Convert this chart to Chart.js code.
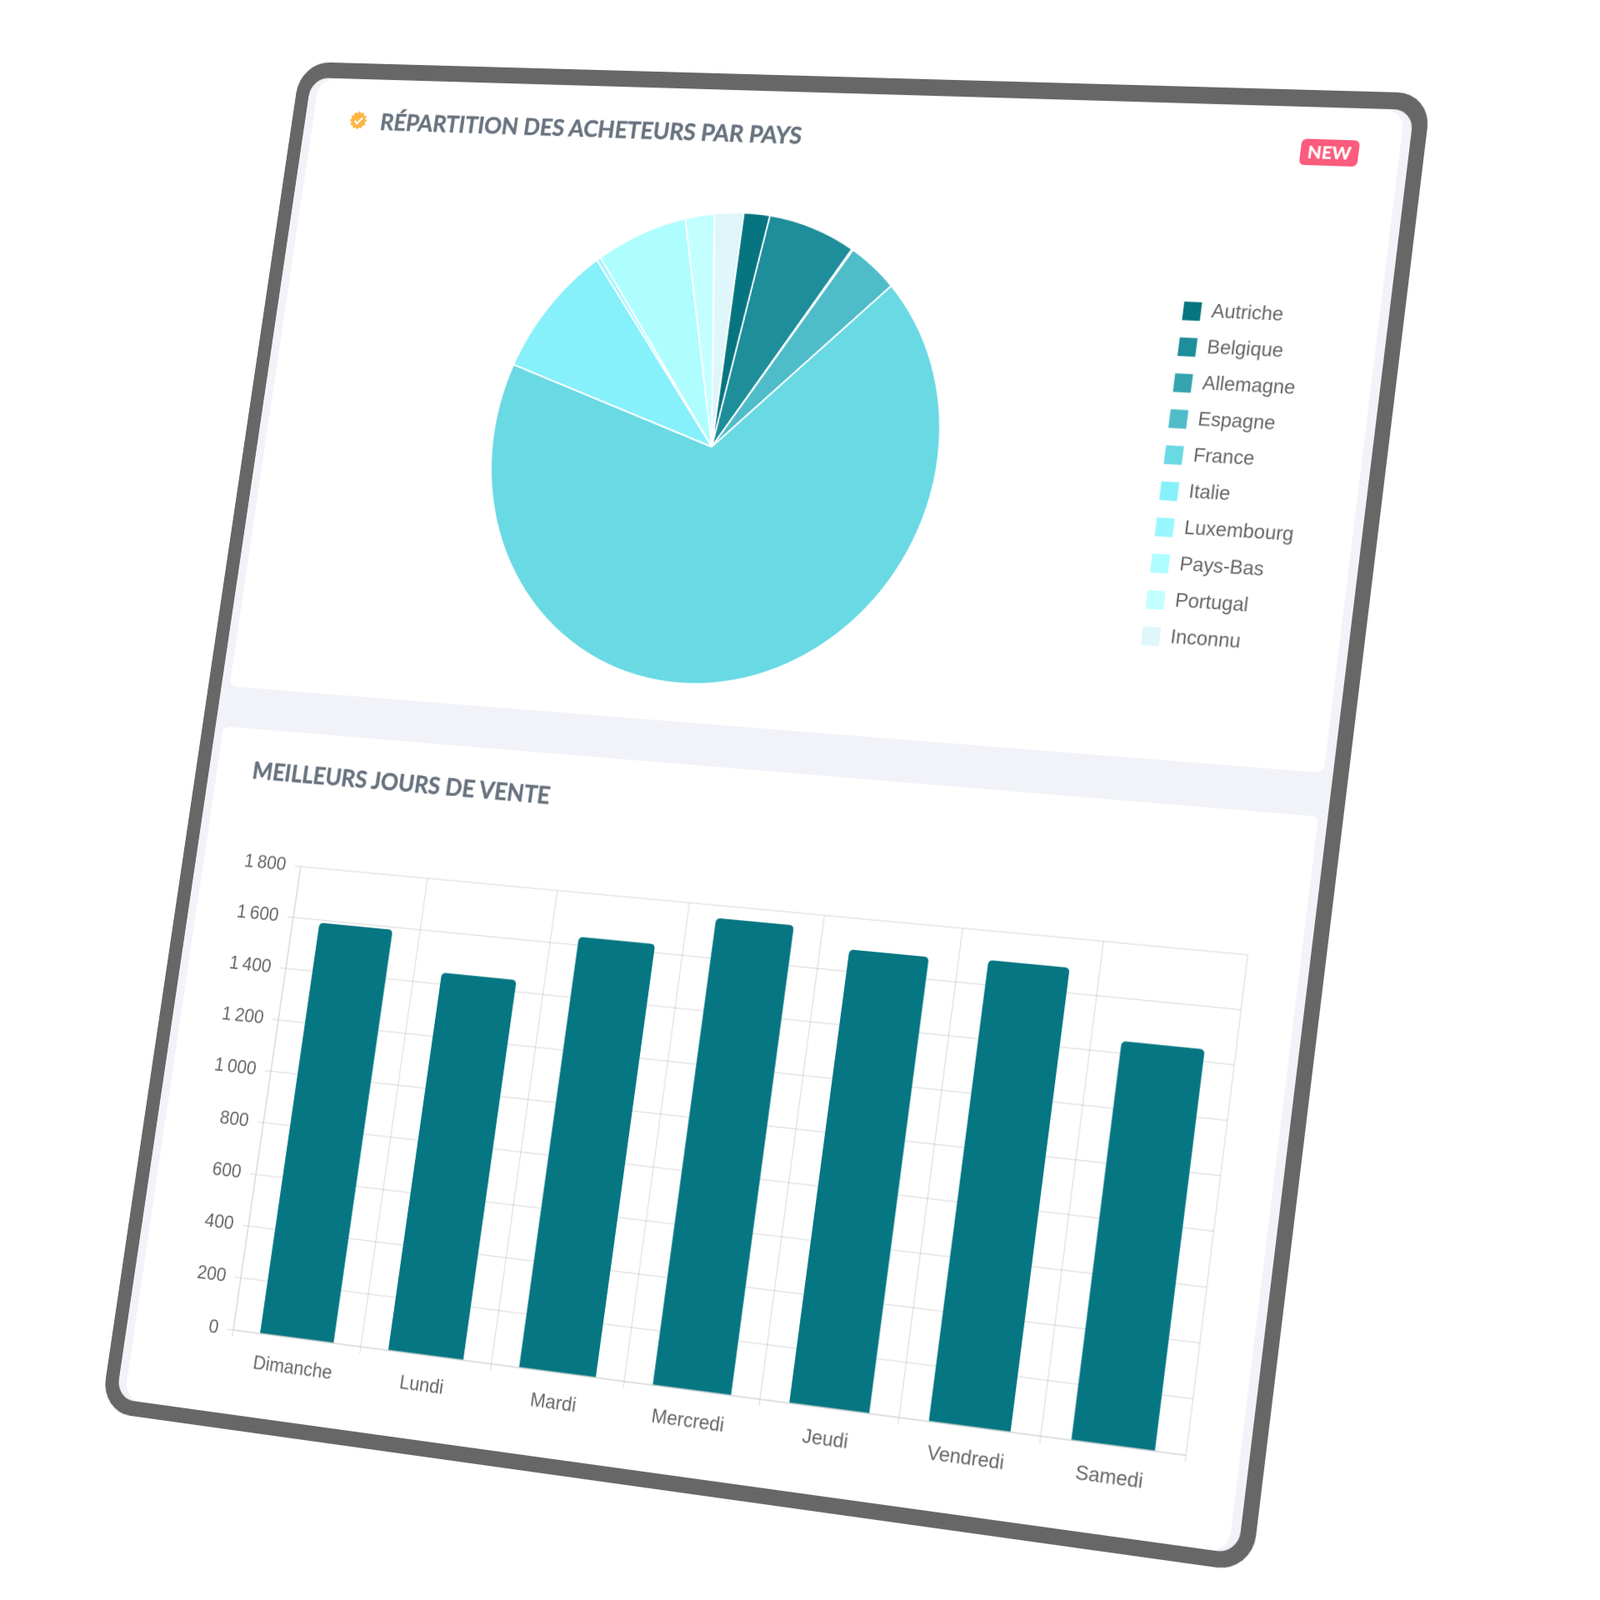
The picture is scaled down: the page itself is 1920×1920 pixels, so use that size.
<!DOCTYPE html>
<html lang="fr">
<head>
<meta charset="utf-8">
<title>Répartition des acheteurs</title>
<script src="https://cdn.jsdelivr.net/npm/chart.js@4"></script>
<style>
  html, body { margin: 0; background: #fff; width: 1920px; height: 1920px; overflow: hidden; }
  #tablette { position: absolute; left: 0; top: 0; background: #676767; border-radius: 40px; transform-origin: 0 0; filter: blur(0.4px); }
  #ecran { position: absolute; left: 18px; top: 20px; right: 18px; bottom: 18px; background: #f2f3f8; border-radius: 24px; overflow: hidden; }
  .carte { position: absolute; background: #fff; border-radius: 8px; }
  .titre { position: absolute; font: 700 29px Lato, sans-serif; color: #68737f; white-space: nowrap; -webkit-text-stroke: 0.4px #68737f; }
  #badge { position: absolute; background: #fb5b7c; color: #fff; font: 900 21.5px Lato, sans-serif; border-radius: 6px; text-align: center; }
  canvas { position: absolute; }
</style>
</head>
<body>
<div id="tablette">
  <div id="ecran"></div>
  <div class="carte" id="carte1"></div>
  <div class="carte" id="carte2"></div>
  <svg id="icone" style="position:absolute" viewBox="-12 -12 24 24"></svg>
  <div class="titre" id="titre1">RÉPARTITION DES ACHETEURS PAR PAYS</div>
  <div id="badge">NEW</div>
  <div class="titre" id="titre2">MEILLEURS JOURS DE VENTE</div>
  <canvas id="graphePays"></canvas>
  <canvas id="grapheJours"></canvas>
</div>
<script>
const pays = ["Autriche", "Belgique", "Allemagne", "Espagne", "France", "Italie", "Luxembourg", "Pays-Bas", "Portugal", "Inconnu"];
const partsPays = [1.9, 6.5, 0.1, 3.8, 67.7, 9.1, 0.3, 6.5, 2.1, 2.1];
const couleursPays = ["#06757f", "#1d8e9a", "#35a4ae", "#4fbcc9", "#69d9e4", "#86f0fb", "#99f6ff", "#aefdff", "#c3ffff", "#dff6fb"];

const jours = ["Dimanche", "Lundi", "Mardi", "Mercredi", "Jeudi", "Vendredi", "Samedi"];
const ventesJours = [1590, 1445, 1632, 1752, 1682, 1692, 1445];
const ticksVentes = ["0", "200", "400", "600", "800", "1\u2009000", "1\u2009200", "1\u2009400", "1\u2009600", "1\u2009800"];

// taille de la tablette a plat, puis ses 4 coins dans l'image
const W = 1447, H = 1686;
const coins = [[361, 74], [1718, 112], [1502, 1887], [121, 1694]];

// homographie rectangle -> quadrilatere
const [[x0, y0], [x1, y1], [x2, y2], [x3, y3]] = coins;
const dx1 = x1 - x2, dx2 = x3 - x2, sx = x0 - x1 + x2 - x3;
const dy1 = y1 - y2, dy2 = y3 - y2, sy = y0 - y1 + y2 - y3;
const den = dx1 * dy2 - dx2 * dy1;
const g = (sx * dy2 - dx2 * sy) / den, h = (dx1 * sy - sx * dy1) / den;
const a = x1 - x0 + g * x1, b = x3 - x0 + h * x3, d = y1 - y0 + g * y1, e = y3 - y0 + h * y3;

function versLocal(X, Y) {
  const m11 = a - g * X, m12 = b - h * X, m21 = d - g * Y, m22 = e - h * Y;
  const r1 = X - x0, r2 = Y - y0, det = m11 * m22 - m12 * m21;
  return [(r1 * m22 - r2 * m12) / det * W, (m11 * r2 - m21 * r1) / det * H];
}

const tablette = document.getElementById("tablette");
tablette.style.width = W + "px";
tablette.style.height = H + "px";
tablette.style.transform = "matrix3d(" + [a / W, d / W, 0, g / W, b / H, e / H, 0, h / H, 0, 0, 1, 0, x0, y0, 0, 1].join(",") + ")";

function placer(id, hg, bd) {
  const el = document.getElementById(id);
  const [l, t] = versLocal(hg[0], hg[1]);
  el.style.left = l + "px";
  el.style.top = t + "px";
  if (bd) {
    const [r, b2] = versLocal(bd[0], bd[1]);
    el.style.width = (r - l) + "px";
    el.style.height = (b2 - t) + "px";
  }
  return el;
}

// cartes blanches
const basDroite = versLocal(1589, 927), hautCarte2 = versLocal(276, 872);
document.getElementById("carte1").style.cssText =
  `left:29px;top:21px;width:${basDroite[0] - 29}px;height:${basDroite[1] - 21}px;border-radius:22px 22px 8px 8px`;
document.getElementById("carte2").style.cssText =
  `left:29px;top:${hautCarte2[1]}px;width:${basDroite[0] - 29}px;height:${H - 18 - hautCarte2[1]}px;border-radius:8px 8px 22px 22px`;

placer("titre1", [459, 129]);
placer("titre2", [306, 906]);
const badge = placer("badge", [1563, 166], [1628, 200]);
badge.style.lineHeight = badge.style.height;
const icone = placer("icone", [419, 133], [441, 156]);

// petite pastille orange
let pts = [];
for (let i = 0; i < 24; i++) {
  const r = i % 2 ? 9.5 : 12, t = i * Math.PI / 12;
  pts.push((r * Math.cos(t)).toFixed(2) + "," + (r * Math.sin(t)).toFixed(2));
}
icone.innerHTML = `<polygon points="${pts.join(" ")}" fill="#fdb441"/><path d="M-5 0.5 L-1.5 4 L5.5 -3.5" fill="none" stroke="#fff" stroke-width="2.4"/>`;

// camembert : centre et rayon mesures sur l'image
const centre = versLocal(854, 536);
const gauche = versLocal(588, 563), droite = versLocal(1128, 520);
const haut = versLocal(888, 256), bas = versLocal(833, 822);
const rayon = ((droite[0] - gauche[0]) + (bas[1] - haut[1])) / 4;
const pastille = versLocal(1395, 560);

const canvasPays = document.getElementById("graphePays");
const pieH = rayon * 2 + 4;
canvasPays.width = 1400;
canvasPays.height = pieH;
canvasPays.style.top = (centre[1] - pieH / 2) + "px";

const paddingLegende = 18.5;
const chartPays = new Chart(canvasPays, {
  type: "pie",
  data: {
    labels: pays,
    datasets: [{ data: partsPays, backgroundColor: couleursPays, borderColor: "#fff", borderWidth: 2 }]
  },
  options: {
    responsive: false,
    maintainAspectRatio: false,
    animation: false,
    devicePixelRatio: 2,
    plugins: {
      legend: {
        position: "right",
        labels: { boxWidth: 23.5, boxHeight: 24, padding: paddingLegende, color: "#666", font: { family: "'Liberation Sans'", size: 23.4 } }
      },
      tooltip: { enabled: false }
    }
  }
});

// cale le canvas pour que le camembert tombe sur son centre et la legende a sa place
const largeurLegende = chartPays.legend.width;
const droitePays = pastille[0] + largeurLegende - paddingLegende;
const gauchePays = 2 * centre[0] - (droitePays - largeurLegende);
chartPays.resize(droitePays - gauchePays, pieH);
canvasPays.style.left = gauchePays + "px";

// histogramme
const axeY = 80, axeX = 70, marge = 16;
const hg = versLocal(362, 1030), bd = versLocal(1423, 1747);
const canvasJours = document.getElementById("grapheJours");
canvasJours.width = bd[0] - hg[0] + axeY + marge;
canvasJours.height = bd[1] - hg[1] + axeX + marge;
canvasJours.style.left = (hg[0] - axeY) + "px";
canvasJours.style.top = (hg[1] - marge) + "px";

new Chart(canvasJours, {
  type: "bar",
  data: {
    labels: jours,
    datasets: [{
      data: ventesJours,
      backgroundColor: "#057682",
      borderRadius: { topLeft: 5, topRight: 5 },
      borderSkipped: false,
      barPercentage: 0.72,
      categoryPercentage: 0.8
    }]
  },
  options: {
    responsive: false,
    animation: false,
    devicePixelRatio: 2,
    layout: { padding: { top: marge, right: marge } },
    plugins: { legend: { display: false }, tooltip: { enabled: false } },
    scales: {
      x: {
        grid: { lineWidth: 1.3, color: ctx => ctx.index === jours.length ? "transparent" : "rgba(0,0,0,0.12)" },
        ticks: { color: "#666", padding: 14, maxRotation: 0, font: { family: "'Liberation Sans'", size: 23.4 } },
        afterFit(s) { s.height = axeX; }
      },
      y: {
        min: 0,
        max: 1800,
        grid: { lineWidth: 1.3, color: "rgba(0,0,0,0.12)" },
        ticks: { stepSize: 200, color: "#666", padding: 12, font: { family: "'Liberation Sans'", size: 23.4 }, callback: (v, i) => ticksVentes[i] },
        afterFit(s) { s.width = axeY; }
      }
    }
  }
});
</script>
</body>
</html>
